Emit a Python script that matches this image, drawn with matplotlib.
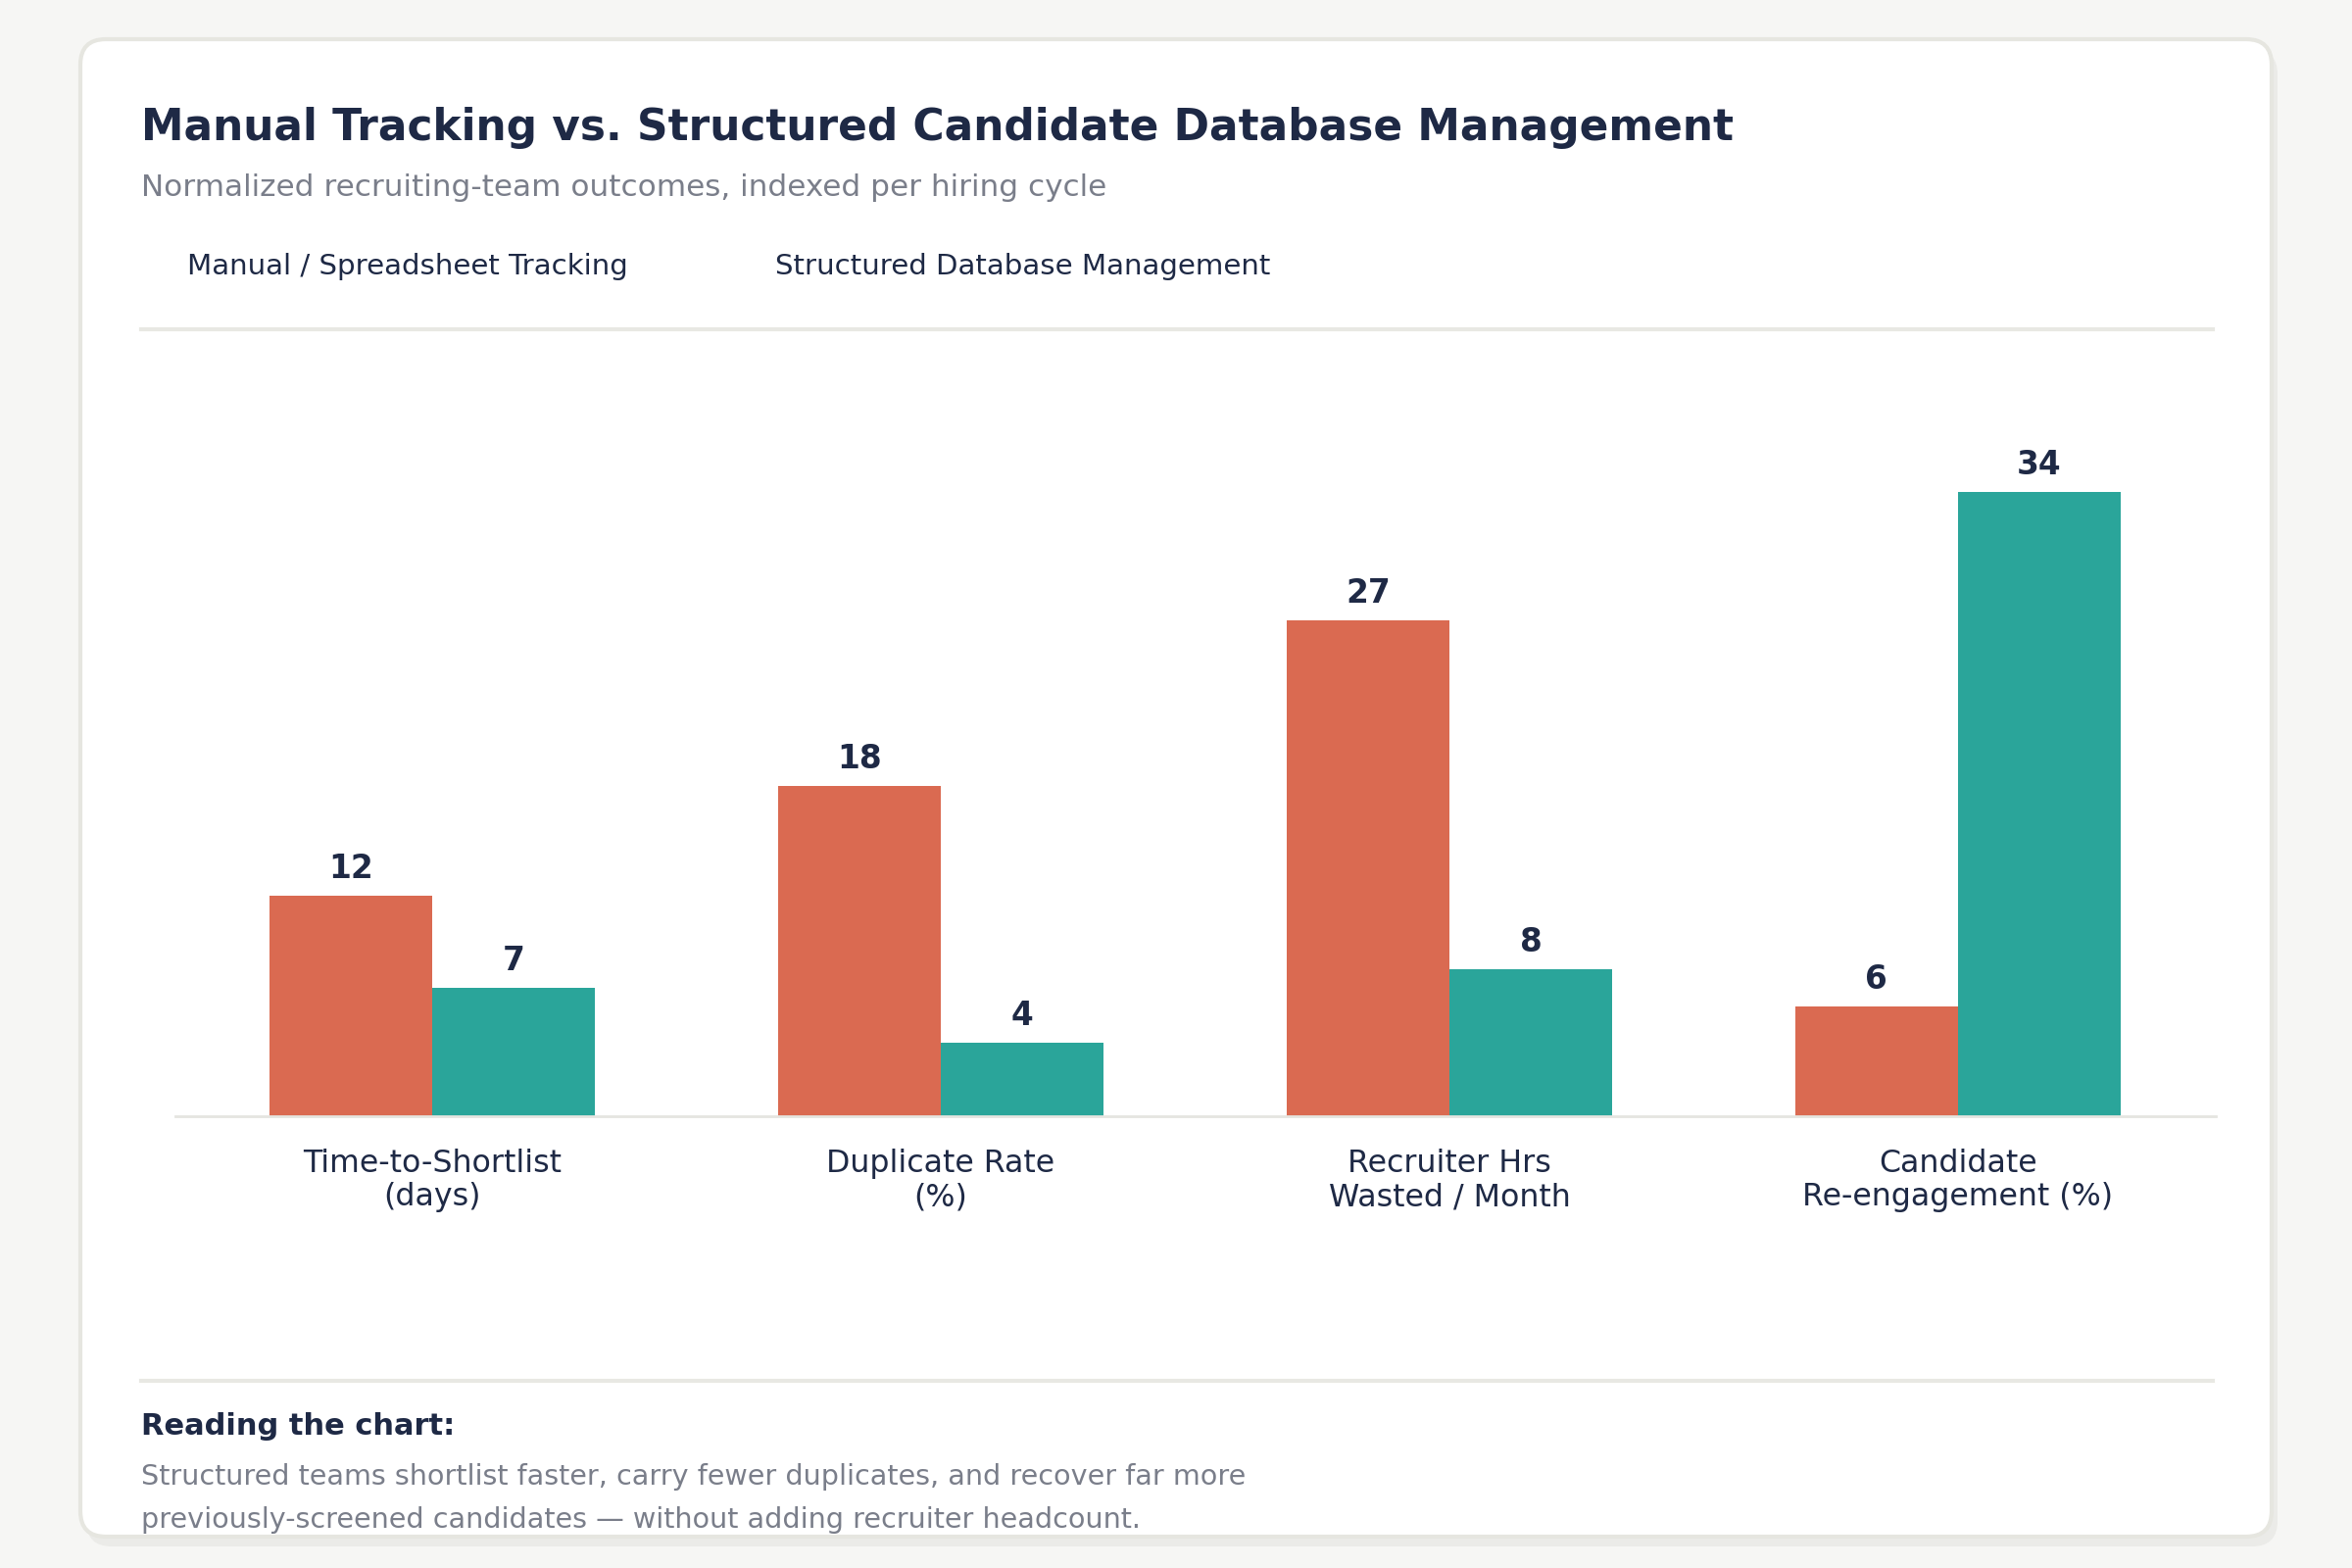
import matplotlib
matplotlib.use("Agg")
import matplotlib.pyplot as plt
from matplotlib.patches import FancyBboxPatch
import numpy as np

plt.rcParams['font.family'] = ['DejaVu Sans']

categories = ["Time-to-Shortlist\n(days)", "Duplicate Rate\n(%)",
              "Recruiter Hrs\nWasted / Month", "Candidate\nRe-engagement (%)"]
series_names = ["Manual / Spreadsheet Tracking", "Structured Database Management"]
manual = [12, 18, 27, 6]
structured = [7, 4, 8, 34]

title = "Manual Tracking vs. Structured Candidate Database Management"
subtitle = "Normalized recruiting-team outcomes, indexed per hiring cycle"
note_head = "Reading the chart:"
note_body = ["Structured teams shortlist faster, carry fewer duplicates, and recover far more",
             "previously-screened candidates \u2014 without adding recruiter headcount."]

NAVY = "#1E2945"
GRAY = "#7A7E8A"
ORANGE = "#DA6A51"
TEAL = "#2AA59A"
BG = "#F6F6F4"
LINE = "#E8E8E3"

W, H = 2400, 1600
fig = plt.figure(figsize=(12, 8), dpi=200, facecolor=BG)

# background / card layer in pixel coordinates
bg = fig.add_axes([0, 0, 1, 1], zorder=0)
bg.set_xlim(0, W)
bg.set_ylim(H, 0)
bg.axis("off")
bg.add_patch(FancyBboxPatch((82 + 6, 40 + 10), 2236, 1528,
                            boxstyle="round,pad=0,rounding_size=26",
                            fc="#EBEBE8", ec="none"))
bg.add_patch(FancyBboxPatch((82, 40), 2236, 1528,
                            boxstyle="round,pad=0,rounding_size=26",
                            fc="white", ec="#E6E6E0", lw=1.5))

bg.text(144, 130, title, fontsize=15.8, fontweight="bold", color=NAVY, va="center", ha="left")
bg.text(144, 191, subtitle, fontsize=11.2, color=GRAY, va="center", ha="left")
bg.text(191, 272.5, series_names[0], fontsize=10.55, color=NAVY, va="center", ha="left")
bg.text(791, 272.5, series_names[1], fontsize=10.55, color=NAVY, va="center", ha="left")
bg.plot([144, 2258], [336, 336], color=LINE, lw=1.5)
bg.plot([144, 2258], [1409, 1409], color=LINE, lw=1.5)
bg.text(144, 1455, note_head, fontsize=11, fontweight="bold", color=NAVY, va="center", ha="left")
for i, line in enumerate(note_body):
    bg.text(144, 1507 + 44 * i, line, fontsize=10.3, color=GRAY, va="center", ha="left")

# chart axes
ax = fig.add_axes([179 / W, (H - 1139) / H, (2261 - 179) / W, (1139 - 438) / H], zorder=1)
ax.patch.set_alpha(0)
x = np.arange(len(categories))
bw = 0.32
b1 = ax.bar(x - bw / 2, manual, bw, color=ORANGE, zorder=2)
b2 = ax.bar(x + bw / 2, structured, bw, color=TEAL, zorder=2)
for bars, vals in ((b1, manual), (b2, structured)):
    for rect, v in zip(bars, vals):
        ax.annotate(str(v), (rect.get_x() + rect.get_width() / 2, v),
                    xytext=(0, 9.8), textcoords="offset points",
                    ha="center", va="center", fontsize=11.8, fontweight="bold", color=NAVY)
ax.set_xlim(-0.505, 3.507)
ax.set_ylim(0, 37.4)
for s in ("top", "right", "left"):
    ax.spines[s].set_visible(False)
ax.spines["bottom"].set_color("#E5E5E0")
ax.spines["bottom"].set_linewidth(1.0)
ax.set_yticks([])
ax.set_xticks(x)
ax.set_xticklabels(categories, fontsize=11.4, color=NAVY)
for t in ax.get_xticklabels():
    t.set_linespacing(1.12)
ax.tick_params(axis="x", length=0, pad=12)

fig.savefig("out.png", dpi=200, facecolor=BG)
